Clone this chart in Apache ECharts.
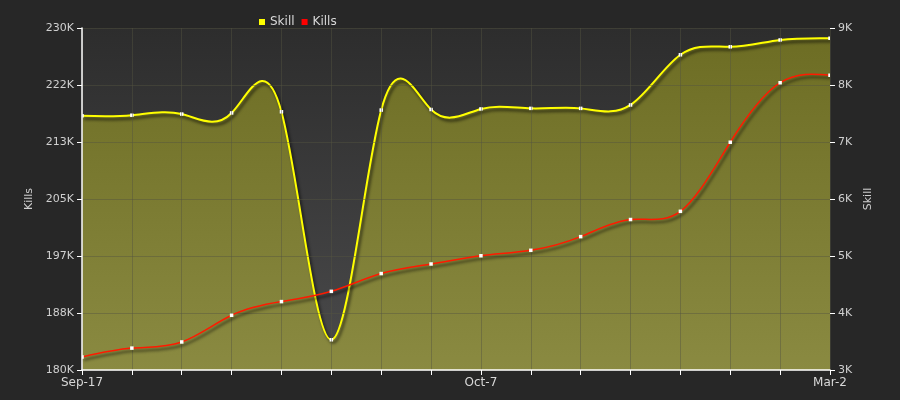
<!DOCTYPE html>
<html>
<head>
<meta charset="utf-8">
<script src="https://cdn.jsdelivr.net/npm/echarts@6/dist/echarts.min.js"></script>
<style>
	html, body { margin: 0; padding: 0; background: #272727; }
	#chart { width: 900px; height: 400px; }
</style>
</head>
<body>
<div id="chart"></div>
<script>
var dates = ['Sep-17', 'Sep-19', 'Sep-22', 'Sep-24', 'Sep-27', 'Sep-29', 'Oct-2', 'Oct-4',
	'Oct-7', 'Oct-28', 'Nov-18', 'Dec-9', 'Dec-30', 'Jan-20', 'Feb-10', 'Mar-2'];
var shownDates = [0, 8, 15];
var skill = [7460, 7470, 7490, 7510, 7530, 3530, 7560, 7570, 7580, 7590, 7590, 7650, 8530, 8670, 8790, 8820];
var kills = [181900, 183200, 184100, 188000, 190000, 191500, 194100, 195500, 196700, 197500, 199500, 202000, 203200, 213300, 222000, 223100];

var myChart = echarts.init(document.getElementById('chart'));

var gridColor = 'rgba(85,85,65,0.45)';

function kFmt(v) {
	return Math.round(v / 1000) + 'K';
}

// natural cubic spline through pixel points, returned as svg path data
function splinePath(pts) {
	var n = pts.length, i;
	var h = [], M = [], a = [], b = [], c = [], r = [];
	for (i = 0; i < n - 1; i++) h[i] = pts[i + 1][0] - pts[i][0];
	for (i = 0; i < n; i++) {
		if (i == 0 || i == n - 1) { a[i] = 0; b[i] = 1; c[i] = 0; r[i] = 0; continue; }
		a[i] = h[i - 1];
		b[i] = 2 * (h[i - 1] + h[i]);
		c[i] = h[i];
		r[i] = 6 * ((pts[i + 1][1] - pts[i][1]) / h[i] - (pts[i][1] - pts[i - 1][1]) / h[i - 1]);
	}
	// thomas
	for (i = 1; i < n; i++) {
		var m = a[i] / b[i - 1];
		b[i] -= m * c[i - 1];
		r[i] -= m * r[i - 1];
	}
	M[n - 1] = r[n - 1] / b[n - 1];
	for (i = n - 2; i >= 0; i--) M[i] = (r[i] - c[i] * M[i + 1]) / b[i];

	var d = 'M' + pts[0][0] + ' ' + pts[0][1];
	for (i = 0; i < n - 1; i++) {
		var p0 = pts[i], p1 = pts[i + 1], hh = h[i];
		var s = (p1[1] - p0[1]) / hh;
		var d0 = s - hh * (2 * M[i] + M[i + 1]) / 6;
		var d1 = s + hh * (M[i] + 2 * M[i + 1]) / 6;
		d += ' C' + (p0[0] + hh / 3) + ' ' + (p0[1] + d0 * hh / 3) + ' ' +
			(p1[0] - hh / 3) + ' ' + (p1[1] - d1 * hh / 3) + ' ' + p1[0] + ' ' + p1[1];
	}
	return d;
}

function curveRenderer(values, lineColor, lineWidth, areaColors) {
	return function (params, api) {
		if (params.dataIndex !== 0) return;
		var pts = values.map(function (v, i) { return api.coord([i, v]); });
		var line = splinePath(pts);
		var children = [];
		if (areaColors) {
			var bottom = params.coordSys.y + params.coordSys.height;
			children.push({
				type: 'path',
				shape: { pathData: line + ' L' + pts[pts.length - 1][0] + ' ' + bottom + ' L' + pts[0][0] + ' ' + bottom + ' Z' },
				style: {
					fill: new echarts.graphic.LinearGradient(0, 0, 0, 1, [
						{ offset: 0, color: areaColors[0] },
						{ offset: 1, color: areaColors[1] }
					]),
					stroke: null
				}
			});
		}
		children.push({
			type: 'path',
			shape: { pathData: line },
			style: {
				fill: null, stroke: lineColor, lineWidth: lineWidth,
				shadowColor: 'rgba(0,0,0,0.65)', shadowBlur: 3, shadowOffsetX: 2, shadowOffsetY: 3
			}
		});
		pts.forEach(function (p) {
			children.push({
				type: 'rect',
				shape: { x: p[0] - 1.75, y: p[1] - 1.75, width: 3.5, height: 3.5 },
				style: { fill: '#ffffff', stroke: null }
			});
		});
		return { type: 'group', children: children };
	};
}

var option = {
	backgroundColor: '#272727',
	animation: false,
	legend: {
		left: 254,
		top: 11,
		icon: 'rect',
		itemWidth: 6,
		itemHeight: 6,
		itemGap: 7,
		data: [
			{ name: 'Skill', itemStyle: { color: '#ffff00' } },
			{ name: 'Kills', itemStyle: { color: '#ff0000' } }
		],
		textStyle: { color: '#d8d8d8', fontSize: 12, fontFamily: 'DejaVu Sans' }
	},
	grid: {
		left: 82,
		right: 70,
		top: 28,
		bottom: 30,
		show: true,
		borderWidth: 0,
		backgroundColor: new echarts.graphic.LinearGradient(0, 0, 0, 1, [
			{ offset: 0, color: '#2d2d2d' },
			{ offset: 1, color: '#4a4a4b' }
		])
	},
	xAxis: {
		type: 'category',
		data: dates,
		boundaryGap: false,
		z: 3,
		axisLine: { lineStyle: { color: '#ffffff', width: 1.5 } },
		axisTick: { interval: 0, length: 5, lineStyle: { color: '#ffffff' } },
		axisLabel: {
			interval: function (i) { return shownDates.indexOf(i) >= 0; },
			color: '#d8d8d8', fontSize: 12, fontFamily: 'DejaVu Sans', margin: 7
		},
		splitLine: { show: true, interval: 0, lineStyle: { color: gridColor } }
	},
	yAxis: [{
		type: 'value',
		name: 'Skill',
		position: 'right',
		nameLocation: 'middle',
		nameRotate: 90,
		nameGap: 30,
		nameTextStyle: { color: '#d0d0d0', fontSize: 11, fontFamily: 'DejaVu Sans' },
		min: 3000,
		max: 9000,
		interval: 1000,
		z: 3,
		axisLine: { show: false },
		axisTick: { show: true, length: 5, lineStyle: { color: '#ffffff' } },
		axisLabel: { formatter: kFmt, color: '#d0d0d0', fontSize: 11, fontFamily: 'DejaVu Sans', margin: 8 },
		splitLine: { show: false }
	}, {
		type: 'value',
		name: 'Kills',
		position: 'left',
		nameLocation: 'middle',
		nameRotate: 90,
		nameGap: 46,
		nameTextStyle: { color: '#d0d0d0', fontSize: 11, fontFamily: 'DejaVu Sans' },
		min: 180000,
		max: 230000,
		alignTicks: true,
		z: 3,
		axisLine: { show: true, lineStyle: { color: '#ffffff', width: 1.5 } },
		axisTick: { show: true, length: 5, lineStyle: { color: '#ffffff' } },
		axisLabel: { formatter: kFmt, color: '#d0d0d0', fontSize: 11, fontFamily: 'DejaVu Sans', margin: 8 },
		splitLine: { show: true, lineStyle: { color: gridColor } }
	}],
	series: [{
		name: 'Skill',
		type: 'custom',
		yAxisIndex: 0,
		data: skill.map(function (v, i) { return [i, v]; }),
		itemStyle: { color: '#ffff00' },
		renderItem: curveRenderer(skill, '#ffff00', 2, ['#6d6d24', '#8a8a41']),
		clip: true,
		z: 2
	}, {
		name: 'Kills',
		type: 'custom',
		yAxisIndex: 1,
		data: kills.map(function (v, i) { return [i, v]; }),
		itemStyle: { color: '#ff0000' },
		renderItem: curveRenderer(kills, '#ff1a00', 1.5, null),
		clip: true,
		z: 4
	}]
};

myChart.setOption(option);
</script>
</body>
</html>
